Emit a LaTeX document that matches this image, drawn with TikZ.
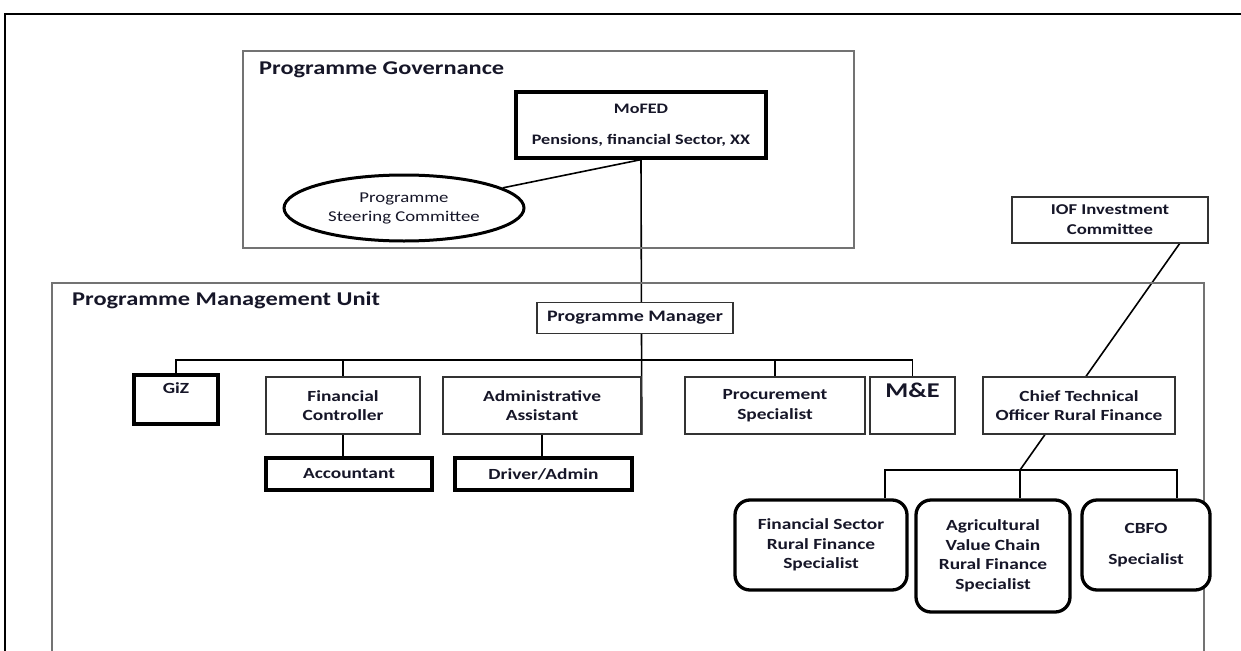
\documentclass[tikz,border=0pt]{standalone}
\usepackage{fontspec}
\setmainfont{Carlito}[FakeStretch=1.25]
\usetikzlibrary{shapes.geometric,backgrounds}
\definecolor{inktext}{RGB}{22,22,40}
\begin{document}
\begin{tikzpicture}[x=1pt,y=-1pt,
  font=\bfseries\fontsize{15.5}{19.5}\selectfont, text=inktext,
  frameline/.style={draw=black!55, line width=2pt},
  outerline/.style={draw=black, line width=2pt},
  thinbox/.style={draw=black!80, line width=1.6pt, fill=white, align=center, inner sep=2pt},
  thickbox/.style={draw=black, line width=3.3pt, fill=white, align=center, inner sep=2pt},
  roundbox/.style={thickbox, rounded corners=15pt},
  heading/.style={anchor=west, inner sep=0pt, font=\bfseries\fontsize{19.5}{22}\selectfont},
  link/.style={draw=black, line width=1.6pt},
  toplabel/.style={anchor=north, inner sep=0pt, yshift=-9pt}
]
\useasboundingbox (0,0) rectangle (1241,650);

% page frame and the two grouping frames
\draw[outerline] (5,660) -- (5,14) -- (1250,14);
\node[frameline, anchor=north west, minimum width=611, minimum height=197, inner sep=0pt] (gov) at (242,50) {};
\node[heading] (govtitle) at (259,70) {Programme Governance};
\draw[frameline] (52,660) -- (52,283) -- (1204,283) -- (1204,660);
\node[heading] (pmutitle) at (72,300) {Programme Management Unit};

% governance
\node[thickbox, minimum width=250, minimum height=66, font=\bfseries\fontsize{14.5}{16}\selectfont] (mofed) at (641,125)
  {MoFED\\[15pt]Pensions, financial Sector, XX};
\node[ellipse, draw=black, line width=3pt, fill=white, minimum width=240, minimum height=66, align=center, inner sep=0pt,
  font=\mdseries\fontsize{15}{19}\selectfont] (psc) at (404,208) {Programme\\Steering Committee};
\node[thinbox, minimum width=196, minimum height=46, font=\bfseries\fontsize{15}{20}\selectfont] (iof) at (1110,220) {IOF Investment\\Committee};

% management unit
\node[thinbox, minimum width=196, minimum height=31, font=\bfseries\fontsize{16}{18}\selectfont] (pm) at (635,318) {Programme Manager};
\node[thickbox, minimum width=84, minimum height=49,
  label={[toplabel, name=giztext]north:GiZ}] (giz) at (176,399.5) {};
\node[thinbox, minimum width=154, minimum height=57] (fc) at (343,405.5) {Financial\\Controller};
\node[thinbox, minimum width=198, minimum height=57] (admin) at (542,405.5) {Administrative\\Assistant};
\node[thinbox, minimum width=180, minimum height=57] (proc) at (775,405.5) {Procurement\\Specialist};
\node[thinbox, minimum width=85, minimum height=57,
  label={[toplabel, name=metext, yshift=2pt, font=\bfseries\fontsize{21}{22}\selectfont]north:M\&E}] (me) at (912.5,405.5) {};
\node[thinbox, minimum width=192, minimum height=57] (cto) at (1079,405.5) {Chief Technical\\Officer Rural Finance};
\node[thickbox, minimum width=166, minimum height=32] (acc) at (349,474) {Accountant};
\node[thickbox, minimum width=177, minimum height=32] (drv) at (543.5,474) {Driver/Admin};

% rural finance specialists
\node[roundbox, minimum width=172, minimum height=90] (fin) at (821,545) {Financial Sector\\Rural Finance\\Specialist};
\node[roundbox, minimum width=154, minimum height=112] (agr) at (993,556) {Agricultural\\Value Chain\\Rural Finance\\Specialist};
\node[roundbox, minimum width=128, minimum height=90] (cbfo) at (1146,545) {CBFO\\[12pt]Specialist};

% connector helper points
\coordinate (bus) at (0,360);
\coordinate (iofbot) at (1180,243);
\coordinate (junc) at (1020,470);
\coordinate (subL) at (885,470);
\coordinate (subR) at (1177,470);

\begin{scope}[on background layer]
  \draw[link] (mofed.south) -- (psc);
  \draw[link] (mofed.south) -- (admin.south east);
  \draw[link] (giz.north) -- (giz.north |- bus) -- (me.north |- bus) -- (me.north);
  \draw[link] (fc.north) -- (fc.north |- bus);
  \draw[link] (proc.north) -- (proc.north |- bus);
  \draw[link] (fc.south) -- (fc.south |- acc.north);
  \draw[link] (admin.south) -- (admin.south |- drv.north);
  \draw[link] (iofbot) -- (junc);
  \draw[link] (subL |- fin.north) -- (subL) -- (subR) -- (subR |- cbfo.north);
  \draw[link] (junc) -- (junc |- agr.north);
\end{scope}
\end{tikzpicture}
\end{document}
